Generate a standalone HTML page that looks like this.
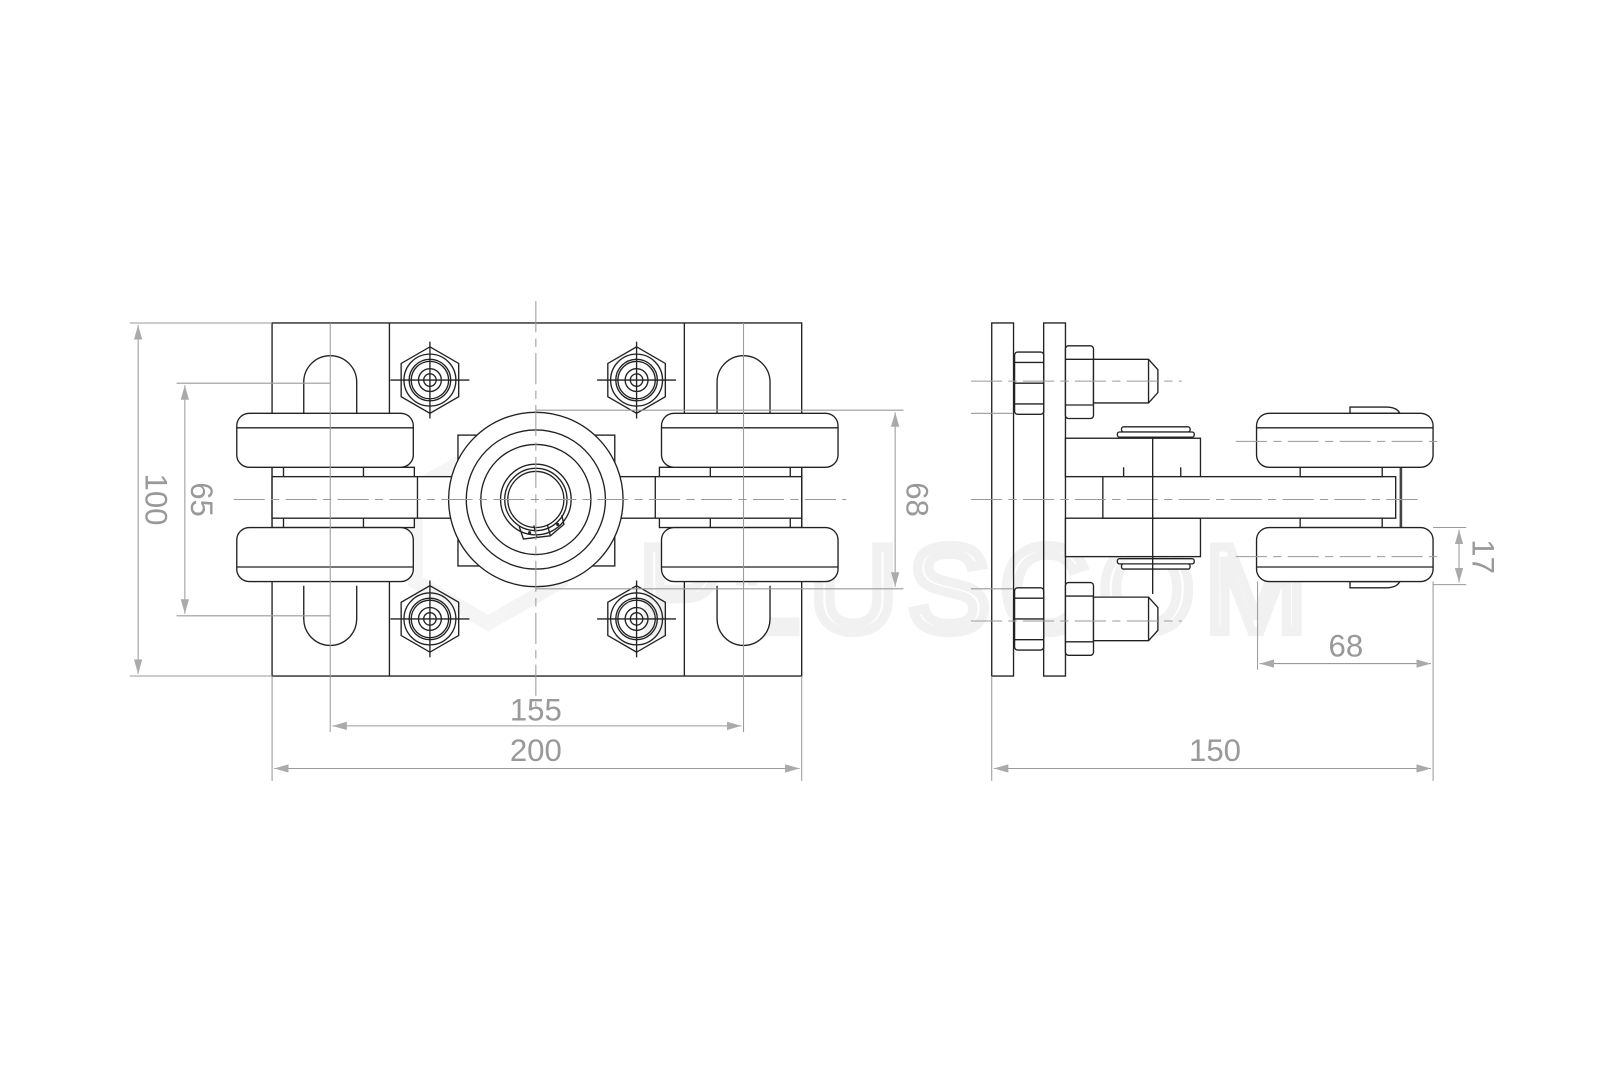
<!DOCTYPE html>
<html><head><meta charset="utf-8"><style>
html,body{margin:0;padding:0;background:#fff;}
svg{display:block;}
.k{fill:none;stroke:#222;stroke-width:1.3}
.kf{fill:#fff;stroke:#222;stroke-width:1.3}
.g{fill:none;stroke:#9a9a9a;stroke-width:1}
.c{fill:none;stroke:#9a9a9a;stroke-width:1;stroke-dasharray:30 6 8 6}
.t{font-family:"Liberation Sans",sans-serif;font-size:30px;fill:#999;}
</style></head><body>
<svg width="1620" height="1080" viewBox="0 0 1560 1040" xmlns="http://www.w3.org/2000/svg">
<defs>
<marker id="a" markerWidth="14" markerHeight="8" refX="14" refY="4" orient="auto-start-reverse" markerUnits="userSpaceOnUse"><path d="M0,0 L14,4 L0,8 Z" fill="#aaa"/></marker>
<g id="nut">
<polygon class="k" points="0,-32 27.7,-16 27.7,16 0,32 -27.7,16 -27.7,-16"/>
<circle class="k" cx="0" cy="0" r="25"/><circle class="k" cx="0" cy="0" r="20"/><circle class="k" cx="0" cy="0" r="18"/>
<circle class="k" cx="0" cy="0" r="11"/><circle class="k" cx="0" cy="0" r="6"/>
<line class="k" x1="-38" y1="0" x2="38" y2="0" stroke-width="1"/><line class="k" x1="0" y1="-37" x2="0" y2="37" stroke-width="1"/>
</g>
<g id="slot"><path class="kf" d="M-25.5,0 V-32 A25.5,25.5 0 0 1 25.5,-32 V0"/></g>
<g id="roll"><rect class="kf" x="0" y="0" width="170" height="52" rx="12"/><line class="k" x1="0" y1="14" x2="170" y2="14"/></g>
</defs>

<!-- watermark -->
<g opacity="0.55">
<text x="615" y="608" style="font-family:'Liberation Sans',sans-serif;font-size:118px;fill:none;stroke:#e6e6e6;stroke-width:9;letter-spacing:10px">PLUSCOM</text>
<polygon points="400,470 470,430 540,470 540,560 470,600 400,560" fill="none" stroke="#ececec" stroke-width="14"/>
</g>

<!-- FRONT VIEW -->
<rect class="k" x="262" y="311" width="510" height="340"/>
<line class="k" x1="375" y1="311" x2="375" y2="651"/>
<line class="k" x1="659" y1="311" x2="659" y2="651"/>
<!-- slots -->
<g transform="translate(318,400)"><use href="#slot"/></g>
<g transform="translate(716,400)"><use href="#slot"/></g>
<g transform="translate(318,564) scale(1,-1)"><use href="#slot"/></g>
<g transform="translate(716,564) scale(1,-1)"><use href="#slot"/></g>
<!-- hubs -->
<rect class="kf" x="262" y="450" width="137" height="58"/>
<rect class="kf" x="635" y="450" width="137" height="58"/>
<line class="k" x1="273" y1="450" x2="273" y2="508"/><line class="k" x1="350" y1="450" x2="350" y2="508"/>
<line class="k" x1="684" y1="450" x2="684" y2="508"/><line class="k" x1="761" y1="450" x2="761" y2="508"/>
<!-- bar -->
<rect class="kf" x="262" y="459" width="510" height="40"/>
<line class="k" x1="402" y1="459" x2="402" y2="499"/><line class="k" x1="631" y1="459" x2="631" y2="499"/>
<!-- rollers -->
<g transform="translate(228,398)"><use href="#roll"/></g>
<g transform="translate(637,398)"><use href="#roll"/></g>
<g transform="translate(228,560) scale(1,-1)"><use href="#roll"/></g>
<g transform="translate(637,560) scale(1,-1)"><use href="#roll"/></g>
<!-- bearing -->
<rect class="kf" x="441" y="419" width="151" height="126"/>
<circle class="kf" cx="516" cy="481" r="84"/>
<circle class="k" cx="516" cy="481" r="67"/>
<circle class="k" cx="516" cy="481" r="53"/>
<circle class="k" cx="516" cy="481" r="34"/>
<circle class="k" cx="516" cy="481" r="30"/>
<circle class="k" cx="516" cy="481" r="27" stroke-width="2"/>
<path class="k" d="M500,507 L504,519 L530,516 L543,505 L541,496"/>
<line class="k" x1="517" y1="518" x2="514" y2="506"/><line class="k" x1="530" y1="516" x2="527" y2="505"/>
<circle cx="510" cy="513" r="1.5" fill="#222"/><circle cx="537" cy="505" r="1.5" fill="#222"/>
<!-- nuts -->
<g transform="translate(414,366)"><use href="#nut"/></g>
<g transform="translate(613,366)"><use href="#nut"/></g>
<g transform="translate(414,596)"><use href="#nut"/></g>
<g transform="translate(613,596)"><use href="#nut"/></g>
<!-- centerlines -->
<line class="c" x1="516" y1="290" x2="516" y2="680"/>
<line class="c" x1="225" y1="481" x2="815" y2="481"/>
<line class="g" x1="318" y1="311" x2="318" y2="705"/>
<line class="g" x1="716" y1="311" x2="716" y2="705"/>
<!-- dims front -->
<line class="g" x1="125" y1="311" x2="262" y2="311"/>
<line class="g" x1="125" y1="651" x2="262" y2="651"/>
<line class="g" x1="133" y1="313" x2="133" y2="649" marker-start="url(#a)" marker-end="url(#a)"/>
<text class="t" transform="translate(140,481) rotate(90)" text-anchor="middle">100</text>
<line class="g" x1="170" y1="369" x2="318" y2="369"/>
<line class="g" x1="170" y1="593" x2="318" y2="593"/>
<line class="g" x1="178" y1="371" x2="178" y2="591" marker-start="url(#a)" marker-end="url(#a)"/>
<text class="t" transform="translate(184,481) rotate(90)" text-anchor="middle">65</text>
<line class="g" x1="516" y1="395" x2="870" y2="395"/>
<line class="g" x1="516" y1="567" x2="870" y2="567"/>
<line class="g" x1="862" y1="397" x2="862" y2="565" marker-start="url(#a)" marker-end="url(#a)"/>
<text class="t" transform="translate(873,481) rotate(90)" text-anchor="middle">68</text>
<line class="g" x1="320" y1="699" x2="714" y2="699" marker-start="url(#a)" marker-end="url(#a)"/>
<text class="t" x="516" y="694" text-anchor="middle">155</text>
<line class="g" x1="262" y1="651" x2="262" y2="752"/>
<line class="g" x1="772" y1="651" x2="772" y2="752"/>
<line class="g" x1="264" y1="740" x2="770" y2="740" marker-start="url(#a)" marker-end="url(#a)"/>
<text class="t" x="516" y="733" text-anchor="middle">200</text>

<!-- SIDE VIEW -->
<rect class="k" x="955" y="311" width="21" height="340"/>
<rect class="k" x="1005" y="311" width="21" height="340"/>
<g class="kf">
<rect x="977" y="339" width="28" height="60" rx="3"/>
<rect x="977" y="566" width="28" height="60" rx="3"/>
<rect x="1026" y="333" width="27" height="70" rx="3"/>
<rect x="1026" y="561" width="27" height="70" rx="3"/>
</g>
<line class="k" x1="977" y1="349" x2="1005" y2="349"/><line class="k" x1="977" y1="369" x2="1005" y2="369"/><line class="k" x1="977" y1="389" x2="1005" y2="389"/>
<line class="k" x1="977" y1="576" x2="1005" y2="576"/><line class="k" x1="977" y1="596" x2="1005" y2="596"/><line class="k" x1="977" y1="616" x2="1005" y2="616"/>
<line class="k" x1="1026" y1="346" x2="1053" y2="346"/><line class="k" x1="1026" y1="390" x2="1053" y2="390"/>
<line class="k" x1="1026" y1="574" x2="1053" y2="574"/><line class="k" x1="1026" y1="618" x2="1053" y2="618"/>
<path class="kf" d="M1053,346 H1106 L1115,356 V378 L1106,388 H1053 Z"/>
<line class="k" x1="1106" y1="346" x2="1106" y2="388"/>
<path class="kf" d="M1053,575 H1106 L1115,585 V607 L1106,617 H1053 Z"/>
<line class="k" x1="1106" y1="575" x2="1106" y2="617"/>
<rect class="kf" x="1026" y="422" width="130" height="37"/>
<rect class="kf" x="1026" y="499" width="130" height="37"/>
<line class="k" x1="1082" y1="450" x2="1082" y2="459"/><line class="k" x1="1137" y1="450" x2="1137" y2="459"/>
<rect class="kf" x="1080" y="411" width="66" height="5" rx="2"/><rect class="kf" x="1076" y="416" width="74" height="5" rx="2"/>
<rect class="kf" x="1080" y="543" width="66" height="5" rx="2"/><rect class="kf" x="1076" y="538" width="74" height="5" rx="2"/>
<rect class="kf" x="1062" y="459" width="282" height="40"/>
<line x1="1349" y1="450" x2="1349" y2="508" stroke="#444" stroke-width="2.5"/>
<rect class="kf" x="1252" y="450" width="79" height="9"/><rect class="kf" x="1252" y="499" width="79" height="9"/>
<path class="kf" d="M1300,398 V392 H1335 Q1345,392 1348,398 Z"/>
<path class="kf" d="M1300,560 V566 H1335 Q1345,566 1348,560 Z"/>
<g transform="translate(1210,398)"><use href="#roll"/></g>
<g transform="translate(1210,560) scale(1,-1)"><use href="#roll"/></g>
<line class="c" x1="935" y1="367" x2="1138" y2="367"/>
<line class="g" x1="935" y1="398" x2="975" y2="398"/>
<line class="c" x1="935" y1="598" x2="1138" y2="598"/>
<line class="g" x1="935" y1="567" x2="975" y2="567"/>
<line class="c" x1="935" y1="481" x2="1370" y2="481"/>
<line class="c" x1="1190" y1="425" x2="1390" y2="425"/>
<line class="c" x1="1190" y1="536" x2="1390" y2="536"/>
<line class="k" x1="1110" y1="421" x2="1110" y2="572" stroke-width="1"/>
<line class="g" x1="955" y1="651" x2="955" y2="752"/>
<line class="g" x1="1380" y1="560" x2="1380" y2="752"/>
<line class="g" x1="957" y1="740" x2="1378" y2="740" marker-start="url(#a)" marker-end="url(#a)"/>
<text class="t" x="1170" y="733" text-anchor="middle">150</text>
<line class="g" x1="1211" y1="560" x2="1211" y2="645"/>
<line class="g" x1="1213" y1="639" x2="1378" y2="639" marker-start="url(#a)" marker-end="url(#a)"/>
<text class="t" x="1296" y="632" text-anchor="middle">68</text>
<line class="g" x1="1380" y1="508" x2="1412" y2="508"/>
<line class="g" x1="1380" y1="563" x2="1412" y2="563"/>
<line class="g" x1="1405" y1="510" x2="1405" y2="561" marker-start="url(#a)" marker-end="url(#a)"/>
<text class="t" transform="translate(1418,536) rotate(90)" text-anchor="middle">17</text>
</svg>
</body></html>
